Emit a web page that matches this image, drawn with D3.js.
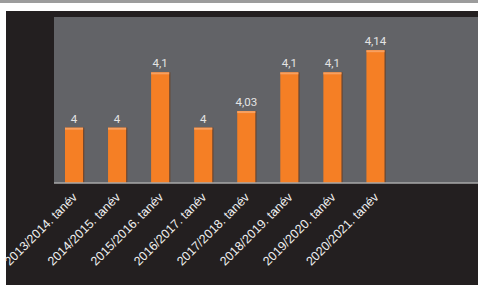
<!DOCTYPE html>
<html>
<head>
<meta charset="utf-8">
<script src="https://cdn.jsdelivr.net/npm/d3@7/dist/d3.min.js"></script>
<style>
  html, body { margin: 0; padding: 0; background: #ffffff; }
  svg { display: block; }
</style>
</head>
<body>
<svg id="chart" width="478" height="286"></svg>
<script>
const categories = ["2013/2014. tanév", "2014/2015. tanév", "2015/2016. tanév", "2016/2017. tanév",
                    "2017/2018. tanév", "2018/2019. tanév", "2019/2020. tanév", "2020/2021. tanév"];
const values = [4, 4, 4.1, 4, 4.03, 4.1, 4.1, 4.14];
const valueLabels = ["4", "4", "4,1", "4", "4,03", "4,1", "4,1", "4,14"];

const svg = d3.select("#chart");
const W = 478, H = 286;

// page frame
svg.append("rect").attr("x", 0).attr("y", 0).attr("width", W).attr("height", 3).attr("fill", "#9c9c9c");
svg.append("rect").attr("x", 6).attr("y", 11).attr("width", W - 6).attr("height", 274).attr("fill", "#231f20");

const plot = { left: 54, right: 478, top: 17, bottom: 183 };
svg.append("rect").attr("x", plot.left).attr("y", plot.top)
  .attr("width", plot.right - plot.left).attr("height", plot.bottom - plot.top).attr("fill", "#626367");

const x = d3.scaleBand().domain(categories).range([52.5, 397]).paddingInner(0.58).paddingOuter(0.29);
const y = d3.scaleLinear().domain([3.9, 4.2]).range([plot.bottom, plot.top]);

const g = svg.append("g");
const data = categories.map((c, i) => ({ c, v: values[i], l: valueLabels[i] }));

// shadow
g.selectAll("rect.shadow").data(data).enter().append("rect")
  .attr("class", "shadow")
  .attr("x", d => x(d.c) + 1.2)
  .attr("y", d => y(d.v))
  .attr("width", x.bandwidth())
  .attr("height", d => plot.bottom - y(d.v))
  .attr("fill", "#6a4630");

g.selectAll("rect.bar").data(data).enter().append("rect")
  .attr("class", "bar")
  .attr("x", d => x(d.c))
  .attr("y", d => y(d.v))
  .attr("width", x.bandwidth())
  .attr("height", d => plot.bottom - y(d.v))
  .attr("fill", "#f57f25");

g.selectAll("rect.top").data(data).enter().append("rect")
  .attr("class", "top")
  .attr("x", d => x(d.c))
  .attr("y", d => y(d.v))
  .attr("width", x.bandwidth())
  .attr("height", 2)
  .attr("fill", "#f8a060");

g.selectAll("text.val").data(data).enter().append("text")
  .attr("class", "val")
  .attr("x", d => x(d.c) + x.bandwidth() / 2)
  .attr("y", d => y(d.v) - 5)
  .attr("text-anchor", "middle")
  .attr("font-family", "Roboto, 'Liberation Sans', sans-serif")
  .attr("font-size", 11.5)
  .attr("fill", "#e4e4e4")
  .text(d => d.l);

// baseline
svg.append("line").attr("x1", plot.left).attr("x2", plot.right)
  .attr("y1", plot.bottom).attr("y2", plot.bottom)
  .attr("stroke", "#a9a9a9").attr("stroke-width", 1.5);

// x axis labels
const axis = svg.append("g").attr("transform", `translate(0,${plot.bottom})`)
  .call(d3.axisBottom(x).tickSize(0).tickPadding(0));
axis.select(".domain").remove();
axis.selectAll("text")
  .attr("font-family", "'Liberation Sans', Arial, sans-serif")
  .attr("font-size", 12.5)
  .attr("fill", "#f0f0f0")
  .attr("text-anchor", "end")
  .attr("dy", 0)
  .attr("transform", "translate(4,15) rotate(-45)");
</script>
</body>
</html>
